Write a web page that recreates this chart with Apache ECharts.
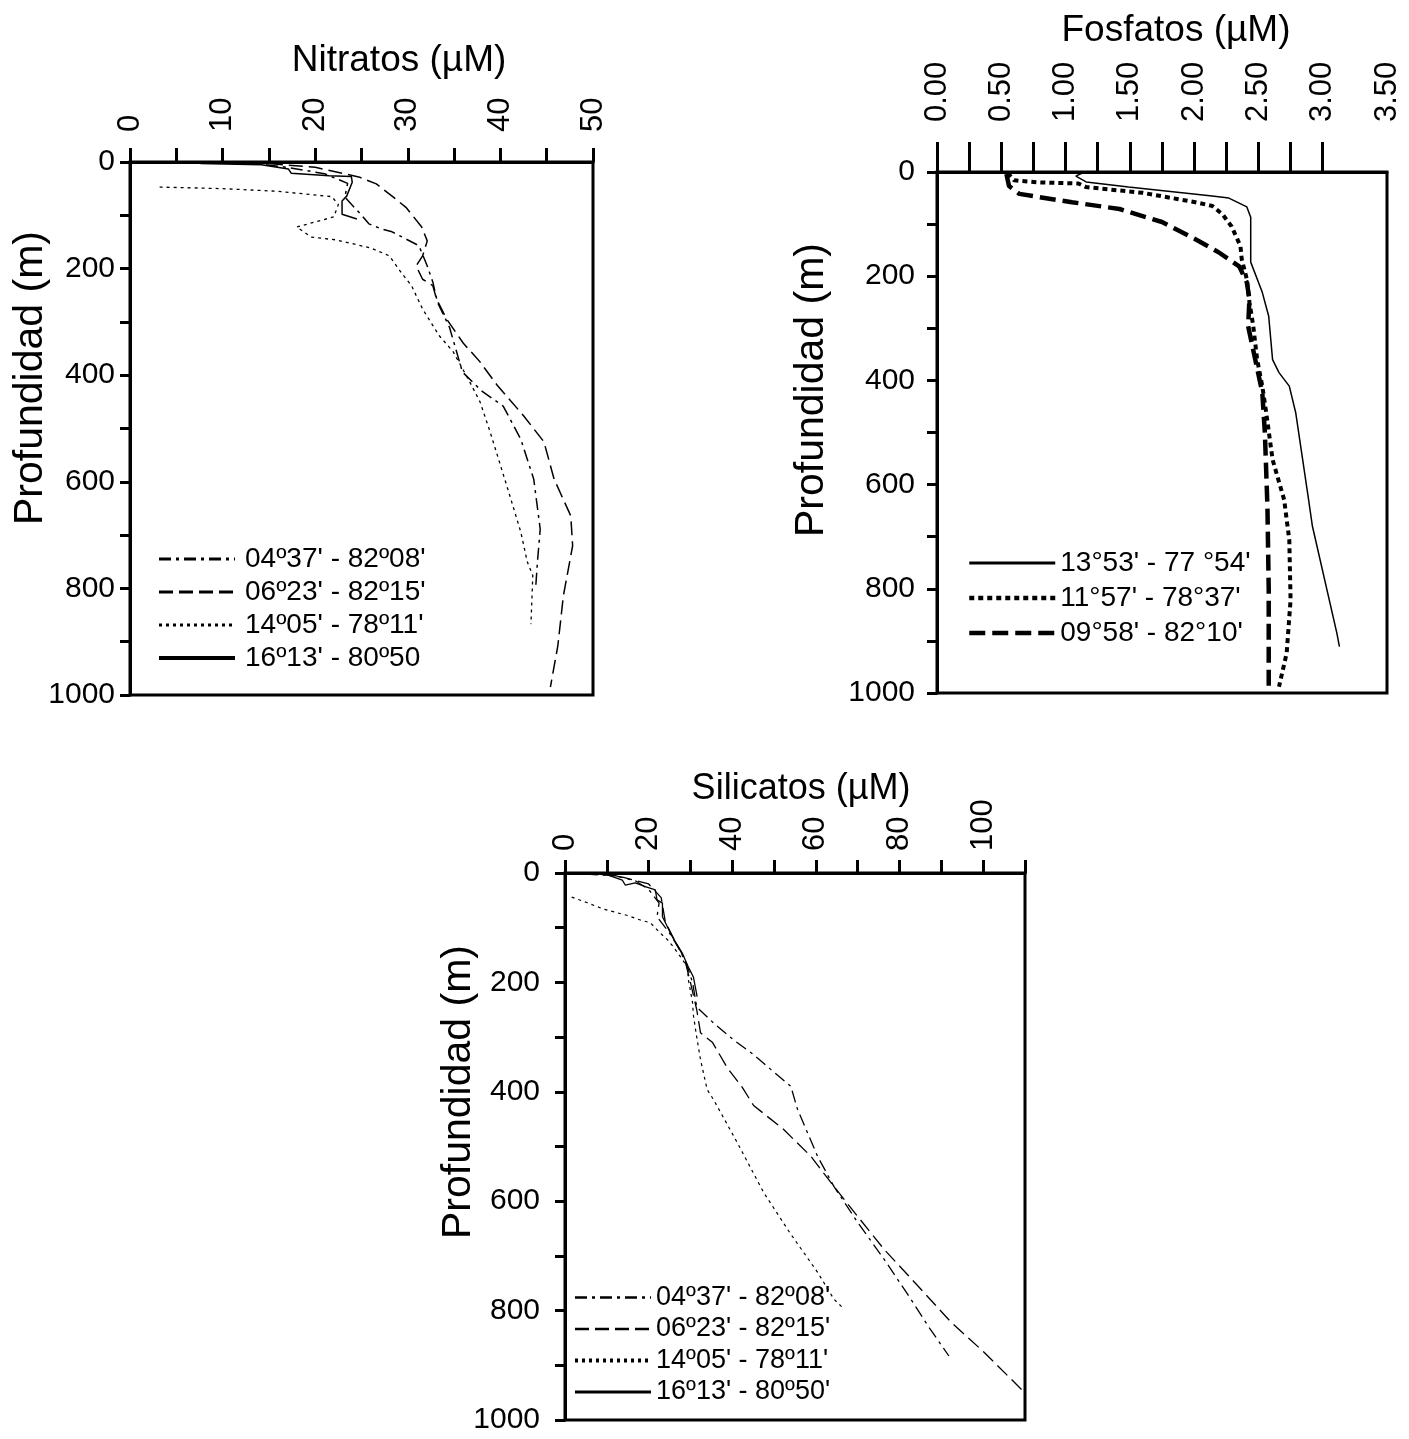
<!DOCTYPE html>
<html><head><meta charset="utf-8">
<script src="https://cdn.jsdelivr.net/npm/echarts@6/dist/echarts.min.js"></script>
<style>html,body{margin:0;padding:0;background:#fff}#c{width:1409px;height:1439px}</style>
</head><body><div id="c"></div>
<script>
const FONT = '"Liberation Sans", Arial, sans-serif';

// ---------- Nitratos (µM) : [valor, profundidad m] ----------
const nitrNames = ["04º37' - 82º08'", "06º23' - 82º15'", "14º05' - 78º11'", "16º13' - 80º50"];
const nitr0437 = [[12,0],[17,10],[21,22],[23.5,40],[23.2,66],[24.7,94],[25.8,116],[27.2,126],[28.3,131],[31.2,157],[32.1,195],[32.7,225],[33.2,263],[34.5,310],[35.9,394],[38,430],[40.3,458],[42.2,520],[43.6,595],[44.3,689],[44,750],[43.8,801]];
const nitr0623 = [[15,3],[20,10],[24.7,28],[26.6,41],[28.3,64],[29.8,85],[31.5,122],[32.1,148],[31.6,176],[30.9,195],[31.6,220],[32.7,232],[33.1,257],[34.2,295],[36,340],[37.8,375],[39.7,420],[42.5,476],[44.7,525],[45.8,595],[47.6,664],[47.8,720],[46.8,814],[46.2,908],[45.4,985]];
const nitr1405 = [[3.2,47],[10,50],[16,55],[21.8,65],[22.5,80],[22,103],[18,122],[19.6,141],[22.2,146],[24.7,156],[26.1,162],[28,176],[29.4,210],[30.4,232],[31.6,276],[33.4,326],[34.9,356],[36.7,413],[37.8,450],[38.9,507],[40.7,608],[42.2,694],[42.9,750],[43.5,776],[43.3,867]];
const nitr1613 = [[7.6,3],[14.2,5],[17.1,13],[17.4,21],[21.5,26],[23.9,27],[24,38],[23.4,64],[22.9,73],[22.9,98],[24.5,107]];

// ---------- Fosfatos (µM) ----------
const fosNames = ["13°53' - 77 °54'", "11°57' - 78°37'", "09°58' - 82°10'"];
const fos1353 = [[1.13,2],[1.08,8],[1.16,19],[1.49,29],[2.14,46],[2.27,50],[2.41,67],[2.44,87],[2.44,173],[2.53,231],[2.58,277],[2.61,360],[2.66,385],[2.74,411],[2.79,462],[2.89,629],[2.92,680],[3.11,885],[3.13,911]];
const fos1157 = [[0.55,2],[0.6,16],[0.8,20],[1.1,22],[1.16,29],[1.6,40],[2.01,58],[2.14,65],[2.22,81],[2.29,104],[2.36,142],[2.37,167],[2.41,206],[2.43,250],[2.46,296],[2.49,360],[2.53,411],[2.56,461],[2.61,552],[2.70,629],[2.74,706],[2.75,821],[2.72,923],[2.66,988]];
const fos0958 = [[0.54,4],[0.56,27],[0.64,42],[0.79,48],[1.05,58],[1.42,71],[1.75,96],[2.01,129],[2.19,154],[2.35,181],[2.41,212],[2.43,244],[2.42,296],[2.53,423],[2.55,500],[2.57,642],[2.58,800],[2.58,1000]];

// ---------- Silicatos (µM) ----------
const silNames = ["04º37' - 82º08'", "06º23' - 82º15'", "14º05' - 78º11'", "16º13' - 80º50'"];
const sil0437 = [[5,2],[12,5],[17,15],[20,30],[22.5,55],[22,80],[25,110],[27,135],[29,165],[30.5,200],[31.5,245],[35.5,274],[40.3,305],[45.1,332],[49.2,359],[54,390],[55.6,432],[60.4,518],[64.3,573],[70,639],[76.3,706],[82.7,779],[86.8,828],[91.8,883]];
const sil0623 = [[8,2],[14,8],[20,20],[23,45],[24,90],[26,120],[28.5,155],[30,200],[31.5,250],[32.4,292],[35.3,310],[38.8,356],[42.4,392],[45.1,425],[52.3,469],[58.8,518],[64.3,573],[70,628],[76.3,688],[84.4,755],[92.3,821],[100.2,876],[109.8,949]];
const sil1405 = [[1.6,44],[5.2,54],[9.2,66],[15.1,78],[18,86],[20.4,91],[22.8,110],[24.5,122],[25.9,135],[27.6,153],[29.3,172],[29.5,195],[30.5,237],[30.7,260],[31.5,300],[32.4,341],[34,396],[35.5,414],[41.2,493],[47.5,584],[53.7,657],[60.4,730],[64.3,779],[66.7,797]];
const sil1613 = [[10,3],[13.7,13],[14.4,22],[16.8,18],[19.2,25],[21.6,31],[22,49],[23.3,55],[23.3,80],[25.7,117],[28,146],[29.5,172],[30.7,190],[31.6,226]];

// ---------- tick labels ----------
const depthLabels = [0,200,400,600,800,1000];
const nitrXLabels = [0,10,20,30,40,50];
const fosXLabels = [0,0.5,1,1.5,2,2.5,3,3.5];
const fosXTicks = [0,0.25,0.5,0.75,1,1.25,1.5,1.75,2,2.25,2.5,2.75,3];
const silXLabels = [0,20,40,60,80,100];
const titles = ['Nitratos (µM)', 'Fosfatos (µM)', 'Silicatos (µM)'];
const yName = 'Profundidad (m)';

const BLACK = '#000';
function xAx(gi, max, interval, labels, ticks, fmt, margin, tickLen) {
  const tick = {show:true, length:tickLen, lineStyle:{color:BLACK, width:3}};
  if (ticks) tick.customValues = ticks;
  return {type:'value', gridIndex:gi, position:'top', min:0, max:max, interval:interval,
    axisLine:{show:true, lineStyle:{color:BLACK, width:3}},
    axisTick:tick,
    axisLabel:{show:true, rotate:90, margin:margin, color:BLACK, fontSize:31, fontFamily:FONT,
      customValues:labels, formatter:fmt, showMinLabel:true, showMaxLabel:true},
    splitLine:{show:false}};
}
function yAx(gi, margin) {
  return {type:'value', gridIndex:gi, inverse:true, min:0, max:1000, interval:100,
    axisLine:{show:true, lineStyle:{color:BLACK, width:3}},
    axisTick:{show:true, length:10, lineStyle:{color:BLACK, width:3}},
    axisLabel:{show:true, customValues:depthLabels, margin:margin, color:BLACK, fontSize:30, fontFamily:FONT,
      formatter: v => String(v)},
    splitLine:{show:false}};
}
function ser(name, gi, data, width, type) {
  return {type:'line', name:name, xAxisIndex:gi, yAxisIndex:gi, data:data, symbol:'none',
    showSymbol:false, smooth:false, silent:true, animation:false,
    lineStyle:{color:BLACK, width:width, type:type}, itemStyle:{color:BLACK}};
}
function legItem(n, w) {
  return {name:n, lineStyle:{width:w}, itemStyle:{opacity:0, borderWidth:0}};
}
function yTitle(x, y) {
  return {type:'text', x:x, y:y, rotation:Math.PI/2,
    style:{text:yName, fontSize:41, fontFamily:FONT, fill:BLACK, align:'center', verticalAlign:'middle'}};
}

const option = {
  backgroundColor:'#fff',
  animation:false,
  grid:[
    {left:130, top:162, width:463, height:533, show:true, borderColor:BLACK, borderWidth:3, containLabel:false},
    {left:937, top:172, width:450, height:521, show:true, borderColor:BLACK, borderWidth:3, containLabel:false},
    {left:565, top:873, width:460, height:547, show:true, borderColor:BLACK, borderWidth:3, containLabel:false}
  ],
  xAxis:[
    xAx(0, 50, 5, nitrXLabels, null, v => String(v), 30, 14),
    xAx(1, 3.5, 0.25, fosXLabels, fosXTicks, v => v.toFixed(2), 50, 30),
    xAx(2, 110, 10, silXLabels, null, v => String(v), 22, 13)
  ],
  yAxis:[ yAx(0, 15), yAx(1, 22), yAx(2, 25) ],
  legend:[
    {orient:'vertical', left:152, top:540, itemWidth:76, itemHeight:14, itemGap:5,
     textStyle:{fontSize:28, fontFamily:FONT, color:BLACK, padding:[0,0,0,5]}, selectedMode:false,
     data:nitrNames.map((n,i)=>legItem(n, i===3 ? 4 : 3))},
    {orient:'vertical', left:962, top:544, itemWidth:86, itemHeight:14, itemGap:7,
     textStyle:{fontSize:28, fontFamily:FONT, color:BLACK}, selectedMode:false,
     data:fosNames.map((n,i)=>legItem(n, i===0 ? 3 : 4.5))},
    {orient:'vertical', left:568, top:1279, itemWidth:76, itemHeight:14, itemGap:4.5,
     textStyle:{fontSize:27, fontFamily:FONT, color:BLACK}, selectedMode:false,
     data:silNames.map((n,i)=>legItem(n, i===2 ? 4 : (i===3 ? 3 : 2.5)))}
  ],
  graphic:[
    {type:'text', x:399, y:61, style:{text:titles[0], fontSize:37, fontFamily:FONT, fill:BLACK, align:'center', verticalAlign:'middle'}},
    {type:'text', x:1176, y:31, style:{text:titles[1], fontSize:37, fontFamily:FONT, fill:BLACK, align:'center', verticalAlign:'middle'}},
    {type:'text', x:801, y:789, style:{text:titles[2], fontSize:36, fontFamily:FONT, fill:BLACK, align:'center', verticalAlign:'middle'}},
    yTitle(31, 378), yTitle(812, 390), yTitle(459, 1092)
  ],
  series:[
    ser(nitrNames[0], 0, nitr0437, 1.5, [12,5,3,5]),
    ser(nitrNames[1], 0, nitr0623, 1.5, [14,6]),
    ser(nitrNames[2], 0, nitr1405, 1.3, [3,4]),
    ser(nitrNames[3], 0, nitr1613, 1.5, 'solid'),
    ser(fosNames[0], 1, fos1353, 1.5, 'solid'),
    ser(fosNames[1], 1, fos1157, 4, [5,4]),
    ser(fosNames[2], 1, fos0958, 4.5, [16,7]),
    ser(silNames[0], 2, sil0437, 1.3, [12,5,3,5]),
    ser(silNames[1], 2, sil0623, 1.3, [14,6]),
    ser(silNames[2], 2, sil1405, 1.2, [3,4]),
    ser(silNames[3], 2, sil1613, 1.3, 'solid')
  ]
};
const chart = echarts.init(document.getElementById('c'));
chart.setOption(option);
</script>
</body></html>
